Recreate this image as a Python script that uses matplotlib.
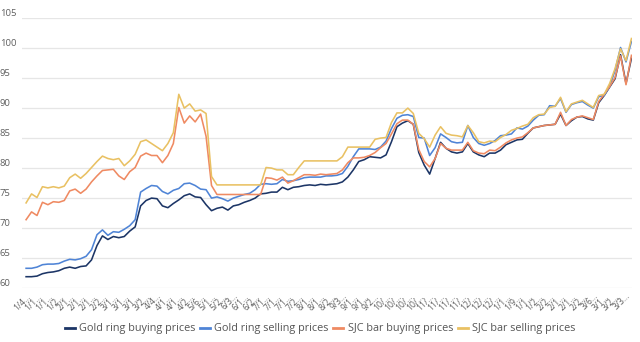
import numpy as np
import matplotlib
matplotlib.use("Agg")
import matplotlib.pyplot as plt
from matplotlib.transforms import ScaledTranslation

plt.rcParams['font.family'] = ['Open Sans', 'DejaVu Sans']

# giá vàng (triệu đồng/lượng), ~2 điểm mỗi nhãn trục x
ring_buy = [61.8, 61.8, 61.9, 62.3, 62.5, 62.6, 62.8, 63.2, 63.4, 63.2,
            63.5, 63.6, 64.6, 67.0, 68.6, 68.0, 68.5, 68.3, 68.5, 69.4,
            70.1, 73.6, 74.5, 74.9, 74.8, 73.6, 73.3, 74.0, 74.6, 75.3,
            75.6, 75.1, 75.0, 73.8, 72.8, 73.2, 73.4, 72.9, 73.6, 73.8,
            74.2, 74.5, 74.9, 75.6, 75.7, 75.9, 75.9, 76.7, 76.3, 76.7,
            76.8, 77.0, 77.1, 77.0, 77.2, 77.1, 77.2, 77.3, 77.6, 78.4,
            79.6, 81.0, 81.3, 81.8, 81.7, 81.6, 82.1, 84.3, 86.8, 87.4,
            87.8, 87.2, 82.5, 80.4, 78.9, 81.5, 84.2, 83.2, 82.6, 82.4,
            82.6, 84.0, 82.6, 82.1, 81.8, 82.4, 82.4, 82.9, 83.8, 84.2,
            84.6, 84.7, 85.7, 86.6, 86.8, 87.0, 87.1, 87.2, 88.9, 87.0,
            87.8, 88.4, 88.5, 88.1, 87.9, 90.8, 92.0, 93.4, 94.8, 98.8,
            94.0, 98.2]

ring_sell = [63.2, 63.2, 63.4, 63.8, 63.9, 63.9, 64.0, 64.4, 64.7, 64.6,
             64.8, 65.2, 66.3, 68.8, 69.6, 68.7, 69.3, 69.2, 69.7, 70.3,
             71.3, 75.9, 76.5, 77.0, 76.9, 76.0, 75.6, 76.2, 76.5, 77.3,
             77.4, 77.0, 76.4, 76.3, 74.9, 75.1, 74.8, 74.4, 74.9, 75.2,
             75.5, 75.7, 76.3, 77.2, 77.3, 77.2, 77.3, 78.0, 77.7, 77.8,
             78.0, 78.3, 78.4, 78.4, 78.4, 78.6, 78.6, 78.7, 79.0, 80.2,
             81.8, 83.1, 83.1, 83.1, 83.0, 83.4, 84.4, 86.5, 88.2, 88.7,
             88.8, 88.5, 85.0, 84.9, 82.0, 83.3, 85.6, 85.0, 84.3, 84.1,
             84.2, 87.0, 85.0, 84.0, 83.7, 84.0, 84.5, 85.3, 85.4, 85.6,
             86.6, 86.4, 86.9, 87.9, 88.7, 88.8, 90.3, 90.2, 91.5, 89.2,
             90.5, 90.8, 91.0, 90.4, 89.9, 91.8, 92.0, 93.5, 96.2, 100.0,
             97.6, 101.0]

sjc_buy = [71.3, 72.6, 72.0, 74.2, 73.8, 74.3, 74.2, 74.5, 76.1, 76.4,
           75.7, 76.4, 77.6, 78.6, 79.5, 79.6, 79.7, 78.6, 78.0, 79.3,
           80.0, 81.9, 82.4, 82.0, 82.0, 80.8, 82.0, 84.0, 90.0, 87.4,
           88.6, 87.6, 88.9, 85.2, 77.0, 75.5, 75.5, 75.5, 75.5, 75.5,
           75.5, 75.5, 75.5, 75.5, 78.3, 78.2, 77.9, 78.4, 77.4, 77.8,
           78.3, 78.8, 78.8, 78.7, 78.9, 78.8, 78.9, 79.0, 79.6, 80.8,
           81.6, 81.6, 81.7, 82.0, 82.5, 83.3, 84.0, 85.6, 87.3, 87.9,
           87.9, 87.2, 83.0, 81.0, 80.1, 81.5, 84.0, 83.2, 82.9, 82.9,
           82.9, 84.2, 82.8, 82.4, 82.3, 82.9, 82.8, 83.4, 84.1, 84.6,
           84.9, 85.1, 85.8, 86.6, 86.8, 87.0, 87.1, 87.2, 89.2, 87.0,
           88.0, 88.4, 88.6, 88.3, 88.0, 91.0, 92.2, 93.5, 95.0, 98.6,
           93.8, 98.7]

sjc_sell = [74.1, 75.6, 75.0, 76.8, 76.6, 76.8, 76.6, 76.9, 78.3, 78.9,
            78.2, 79.0, 80.0, 81.0, 81.9, 81.5, 81.3, 81.5, 80.3, 81.1,
            82.2, 84.3, 84.6, 84.0, 83.4, 82.8, 84.0, 85.8, 92.2, 89.9,
            90.6, 89.4, 89.6, 89.0, 78.5, 77.1, 77.1, 77.1, 77.1, 77.1,
            77.1, 77.1, 77.1, 77.1, 80.0, 79.9, 79.6, 79.6, 78.8, 78.8,
            80.0, 81.1, 81.1, 81.1, 81.1, 81.1, 81.1, 81.1, 81.8, 83.4,
            83.4, 83.4, 83.4, 83.4, 84.7, 84.9, 85.0, 87.5, 89.1, 89.1,
            89.9, 89.0, 85.7, 84.8, 83.4, 85.4, 86.8, 85.7, 85.4, 85.3,
            85.1, 87.0, 85.8, 84.3, 84.1, 84.4, 84.3, 85.0, 85.5, 86.2,
            86.5, 86.9, 87.2, 88.3, 88.8, 88.9, 90.0, 90.2, 91.7, 89.3,
            90.6, 90.9, 91.2, 90.6, 90.0, 92.0, 92.2, 94.0, 96.5, 99.8,
            97.8, 101.5]

date_labels = ["1/4…", "1/1…", "1/1…", "1/2…", "2/1…", "2/1…", "2/1…", "2/2…",
               "3/1…", "3/1…", "3/1…", "3/2…", "4/4…", "4/1…", "4/1…", "4/2…",
               "5/6…", "5/1…", "5/2…", "6/3…", "6/1…", "6/2…", "7/1…", "7/1…",
               "7/1…", "7/2…", "8/1…", "8/1…", "8/2…", "9/3…", "9/1…", "9/1…",
               "9/2…", "10/…", "10/…", "10/…", "10/…", "11/…", "11/…", "11/…",
               "11/…", "12/…", "12/…", "12/…", "1/1…", "1/9…", "1/1…", "1/2…",
               "2/2…", "2/1…", "2/1…", "2/2…", "3/6…", "3/1…", "3/2…", "3/3…"]

series_names = ["Gold ring buying prices", "Gold ring selling prices",
                "SJC bar buying prices", "SJC bar selling prices"]
colors = ["#1c3566", "#4f84d6", "#ef8a62", "#e9c163"]

x = np.arange(len(ring_buy))

fig = plt.figure(figsize=(6.4, 3.42), dpi=100)
ax = fig.add_axes([22 / 640, 1 - 287.5 / 342, 610 / 640, 270 / 342])

for ys, name, c in zip([ring_buy, ring_sell, sjc_buy, sjc_sell], series_names, colors):
    ax.plot(x, ys, color=c, lw=1.15, label=name)

ax.set_xlim(-0.75, len(x) - 0.9)
ax.set_ylim(60, 105)
ax.set_yticks(np.arange(60, 106, 5))
ax.yaxis.grid(True, color="#e6e6e6", lw=0.9)
ax.set_axisbelow(True)
for s in ax.spines.values():
    s.set_visible(False)
ax.tick_params(axis="both", length=0, colors="#5f5f5f")

# nhãn trục y: canh trái, nằm hơi cao hơn đường lưới
ax.tick_params(axis="y", labelsize=6.8, pad=16)
for lbl in ax.get_yticklabels():
    lbl.set_horizontalalignment("left")
    lbl.set_transform(lbl.get_transform() + ScaledTranslation(0, 5 / 100, fig.dpi_scale_trans))

tick_pos = np.arange(0, len(x), 2)[:len(date_labels)]
ax.set_xticks(tick_pos)
ax.set_xticklabels(date_labels, rotation=45, ha="right", rotation_mode="anchor",
                   fontsize=6.2, color="#5f5f5f")
ax.tick_params(axis="x", pad=3)

leg = fig.legend(loc="center", bbox_to_anchor=(0.5, 1 - 329 / 342), ncol=4,
                 frameon=False, fontsize=7.8, handlelength=0.9, handletextpad=0.4,
                 columnspacing=0.45)
for h in leg.get_lines():
    h.set_linewidth(2)
for t in leg.get_texts():
    t.set_color("#555555")

fig.savefig("out.png", dpi=100, facecolor="white")
